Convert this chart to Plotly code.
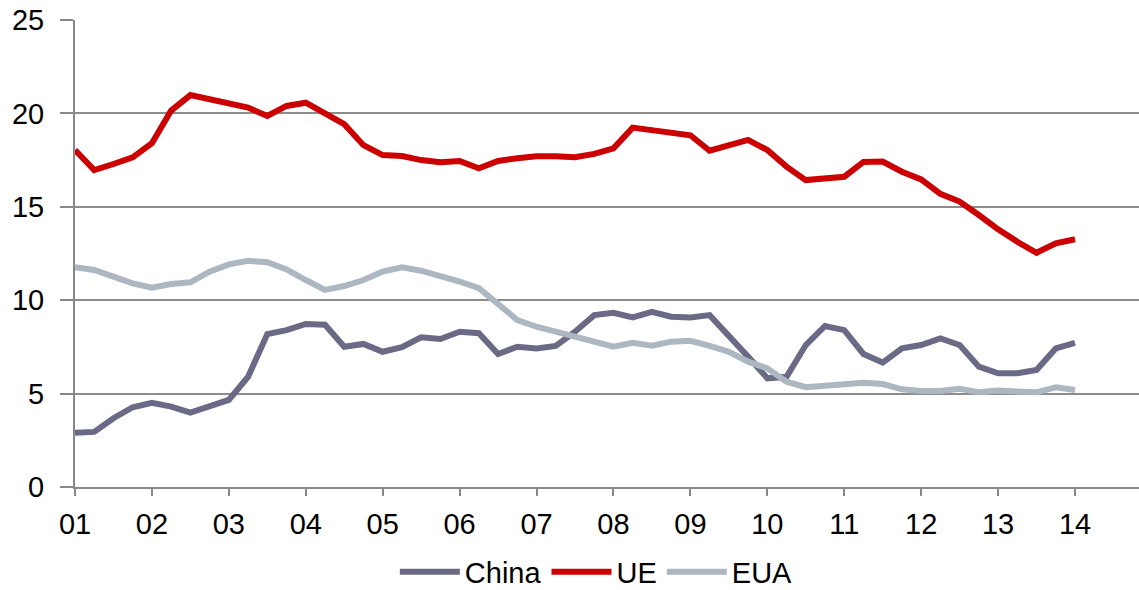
import plotly.graph_objects as go

# Quarterly observations, 2001 Q1 .. 2014 Q1
quarters = [2001 + i / 4 for i in range(53)]

china = [2.9, 2.95, 3.68, 4.27, 4.51, 4.3, 3.98, 4.3, 4.66, 5.9,
         8.19, 8.4, 8.73, 8.69, 7.51, 7.66, 7.24, 7.48, 8.01, 7.92,
         8.31, 8.23, 7.12, 7.51, 7.42, 7.55, 8.31, 9.2, 9.33, 9.08,
         9.38, 9.12, 9.08, 9.2, 8.14, 6.98, 5.82, 5.9, 7.6, 8.62,
         8.4, 7.12, 6.66, 7.42, 7.6, 7.96, 7.6, 6.44, 6.09, 6.09,
         6.26, 7.42, 7.72]

ue = [18.04, 16.97, 17.29, 17.65, 18.4, 20.15, 20.98, 20.77, 20.54, 20.31,
      19.86, 20.4, 20.57, 20.0, 19.42, 18.3, 17.77, 17.72, 17.5, 17.38,
      17.45, 17.06, 17.45, 17.6, 17.7, 17.7, 17.65, 17.83, 18.13, 19.24,
      19.08, 18.93, 18.83, 18.0, 18.3, 18.58, 18.04, 17.15, 16.43, 16.49,
      16.61, 17.4, 17.42, 16.88, 16.47, 15.69, 15.28, 14.56, 13.79, 13.13,
      12.54, 13.04, 13.26]

eua = [11.76, 11.62, 11.26, 10.9, 10.67, 10.87, 10.96, 11.53, 11.92, 12.11,
       12.03, 11.65, 11.08, 10.55, 10.76, 11.08, 11.53, 11.76, 11.58, 11.3,
       11.0, 10.64, 9.83, 8.94, 8.58, 8.31, 8.05, 7.83, 7.51, 7.72,
       7.56, 7.78, 7.83, 7.55, 7.24, 6.71, 6.35, 5.64, 5.34, 5.42,
       5.51, 5.58, 5.51, 5.23, 5.14, 5.14, 5.26, 5.07, 5.16, 5.1,
       5.07, 5.34, 5.19]

year_ticks = list(range(2001, 2015))
year_labels = ["01", "02", "03", "04", "05", "06", "07", "08", "09", "10",
               "11", "12", "13", "14"]
y_ticks = [0, 5, 10, 15, 20, 25]

series = [
    ("China", china, "#6b6a86"),
    ("UE", ue, "#cc0000"),
    ("EUA", eua, "#adb7c1"),
]

fig = go.Figure()
for name, values, color in series:
    fig.add_trace(go.Scatter(
        x=quarters, y=values, name=name, mode="lines",
        line=dict(color=color, width=6),
    ))

font = dict(family="Liberation Sans, Arial, sans-serif", size=29, color="#000000")

fig.update_layout(
    width=1139, height=590,
    margin=dict(l=75, r=0, t=20, b=103, autoexpand=False),
    paper_bgcolor="white", plot_bgcolor="white",
    font=font,
    showlegend=True,
    legend=dict(orientation="h", x=0.49, xanchor="center",
                yref="container", y=1 - 572 / 590, yanchor="middle",
                font=font, itemwidth=60, traceorder="normal"),
    xaxis=dict(
        range=[2001, 2001 + (1139 - 75) / (1000 / 13)],
        tickvals=year_ticks, ticktext=year_labels,
        showgrid=False, zeroline=False, automargin=False,
        showline=True, linecolor="#888888", linewidth=2,
        ticks="outside", ticklen=7, tickwidth=2, tickcolor="#888888",
        tickfont=font, ticklabelstandoff=3,
    ),
    yaxis=dict(
        range=[0, 25], tickvals=y_ticks,
        showgrid=True, gridcolor="#8c8c8c", gridwidth=2,
        zeroline=False, automargin=False,
        showline=True, linecolor="#888888", linewidth=2,
        ticks="outside", ticklen=13, tickwidth=2, tickcolor="#888888",
        tickfont=font, ticklabelstandoff=10,
    ),
)

fig.write_html("out.html")
